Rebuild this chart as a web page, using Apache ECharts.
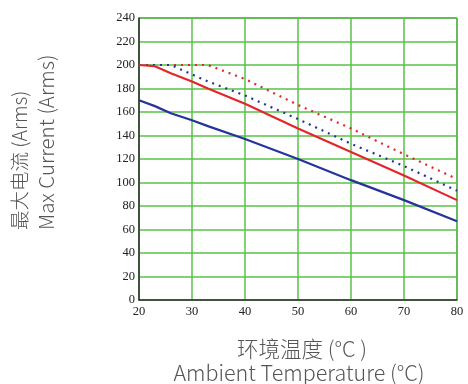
<!DOCTYPE html>
<html><head><meta charset="utf-8">
<script src="https://cdn.jsdelivr.net/npm/echarts@6/dist/echarts.min.js"></script>
<style>html,body{margin:0;padding:0;background:#fff}#c{width:468px;height:384px}</style>
</head><body><div id="c"></div>
<script>
const temps = [20, 23, 26, 30, 33, 40, 50, 60, 70, 80];
const redSolid   = [200, 199, 193, 186, 180, 167, 146, 126, 106, 85];
const blueSolid  = [170, 165, 159, 153, 148, 137, 120, 102, 85, 67];
const redDotted  = [200, 200, 200, 200, 200, 188, 166, 146, 124, 103];
const blueDotted = [200, 200, 200, 192, 186, 174, 154, 133, 114, 93];
const yTitle = ['最大电流 (Arms)', 'Max Current (Arms)'];
const xTitle = ['环境温度 (°C )', 'Ambient Temperature (°C)'];

const pair = arr => temps.map((t, i) => [t, arr[i]]);
const chart = echarts.init(document.getElementById('c'));
const serif = '"Liberation Serif","DejaVu Serif",serif';
const sans = '"Noto Sans CJK SC","Noto Sans",sans-serif';
function line(data, color, dotted, z) {
  return {type: 'line', data: pair(data), symbol: 'none', smooth: false, z: z,
    lineStyle: {color: color, width: 2.2, type: dotted ? [2, 5] : 'solid'}};
}
chart.setOption({
  animation: false,
  grid: {left: 139, right: 11, top: 18, bottom: 84, show: true, borderColor: '#444', borderWidth: 1},
  xAxis: {type: 'value', min: 20, max: 80, interval: 10,
    axisLine: {show: true, onZero: false, lineStyle: {color: '#333', width: 1.5}},
    axisTick: {show: false},
    axisLabel: {color: '#222', fontFamily: serif, fontSize: 12.5, margin: 5},
    splitLine: {show: true, lineStyle: {color: '#58c24a', width: 1.5}}},
  yAxis: {type: 'value', min: 0, max: 240, interval: 20,
    axisLine: {show: true, lineStyle: {color: '#333', width: 1.5}},
    axisTick: {show: false},
    axisLabel: {color: '#222', fontFamily: serif, fontSize: 12.5, margin: 4},
    splitLine: {show: true, lineStyle: {color: '#58c24a', width: 1.5}}},
  series: [
    line(redDotted, '#e3262a', true, 3),
    line(blueDotted, '#24349a', true, 3),
    line(redSolid, '#e3262a', false, 4),
    line(blueSolid, '#24349a', false, 4)
  ],
  graphic: [
    {type: 'text', x: 20, y: 230, rotation: Math.PI / 2, style: {text: yTitle[0], fill: '#555', font: '300 19.5px ' + sans, align: 'left', verticalAlign: 'middle'}},
    {type: 'text', x: 46, y: 230, rotation: Math.PI / 2, style: {text: yTitle[1], fill: '#555', font: '300 20.5px ' + sans, align: 'left', verticalAlign: 'middle'}},
    {type: 'text', x: 302, y: 349, style: {text: xTitle[0], fill: '#555', font: '300 21.5px ' + sans, align: 'center', verticalAlign: 'middle'}},
    {type: 'text', x: 299, y: 373, style: {text: xTitle[1], fill: '#555', font: '300 21.5px ' + sans, align: 'center', verticalAlign: 'middle'}}
  ]
});
</script></body></html>
